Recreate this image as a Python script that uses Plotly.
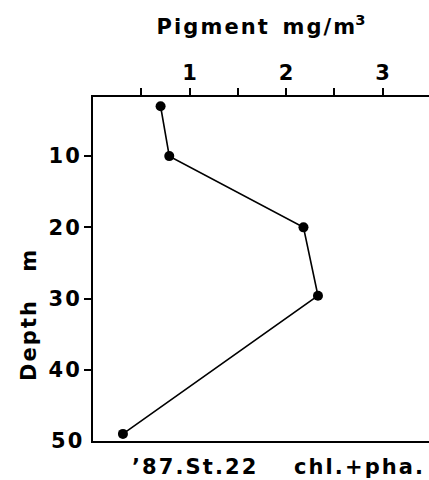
import plotly.graph_objects as go

# Vertical pigment profile (chlorophyll + phaeopigment), station 22, 1987
depth_m = [3, 10, 20, 29.6, 49]
pigment_mg_m3 = [0.70, 0.79, 2.18, 2.33, 0.31]

x_tick_vals = [1, 2, 3]
x_minor_vals = [0.5, 1.5, 2.5]
y_tick_vals = [10, 20, 30, 40]

FONT = "DejaVu Sans"
HS = "\u200a"  # hair space used for letter tracking
NB = "\u00a0"


def spaced(s):
    return HS.join(s)


fig = go.Figure()
fig.add_trace(go.Scatter(
    x=pigment_mg_m3, y=depth_m, mode="lines+markers",
    line=dict(color="black", width=1.6),
    marker=dict(color="black", size=10),
    showlegend=False, cliponaxis=False,
))

fig.update_layout(
    width=429, height=480,
    margin=dict(l=93, r=0, t=97, b=39),
    paper_bgcolor="white", plot_bgcolor="white",
    font=dict(family=FONT, color="black", size=20, weight="bold"),
    xaxis=dict(
        side="top", range=[0, 3.48], showgrid=False, zeroline=False,
        showline=True, linecolor="black", linewidth=2, mirror=True,
        ticks="outside", ticklen=7, tickwidth=1.5, tickcolor="black",
        tickvals=x_tick_vals, ticktext=[spaced(str(v)) for v in x_tick_vals],
        tickfont=dict(family=FONT, size=21, weight="bold"),
        minor=dict(tickvals=x_minor_vals, ticks="outside", ticklen=7,
                   tickwidth=1.5, tickcolor="black", showgrid=False),
        title=dict(text=spaced("Pigment") + NB * 2 + spaced("mg/m") + "<sup>3</sup>",
                   standoff=20,
                   font=dict(family=FONT, size=21, weight="bold", color="black")),
    ),
    yaxis=dict(
        range=[50, 1.7], showgrid=False, zeroline=False,
        showline=True, linecolor="black", linewidth=2, mirror=False,
        ticks="outside", ticklen=7, tickwidth=1.5, tickcolor="black",
        tickvals=y_tick_vals, ticktext=[spaced(str(v)) for v in y_tick_vals],
        tickfont=dict(family=FONT, size=21, weight="bold"),
    ),
)

# free-standing labels, positioned in pixels and converted to plot-area paper coords
pl, pt, pw, ph = 93, 97, 429 - 93, 480 - 97 - 39
labels = [
    dict(text=spaced("Depth") + NB * 4 + "m", x=29, y=316, angle=-90),
    dict(text=spaced("50"), x=66, y=441, angle=0),
    dict(text=spaced("\u201987.St.22"), x=194, y=467, angle=0),
    dict(text=spaced("chl.+pha."), x=358, y=467, angle=0),
]
for a in labels:
    fig.add_annotation(
        text=a["text"], x=(a["x"] - pl) / pw, y=1 - (a["y"] - pt) / ph,
        xref="paper", yref="paper", xanchor="center", yanchor="middle",
        showarrow=False, textangle=a["angle"],
        font=dict(family=FONT, color="black", weight="bold", size=21),
    )

fig.write_html("out.html")
